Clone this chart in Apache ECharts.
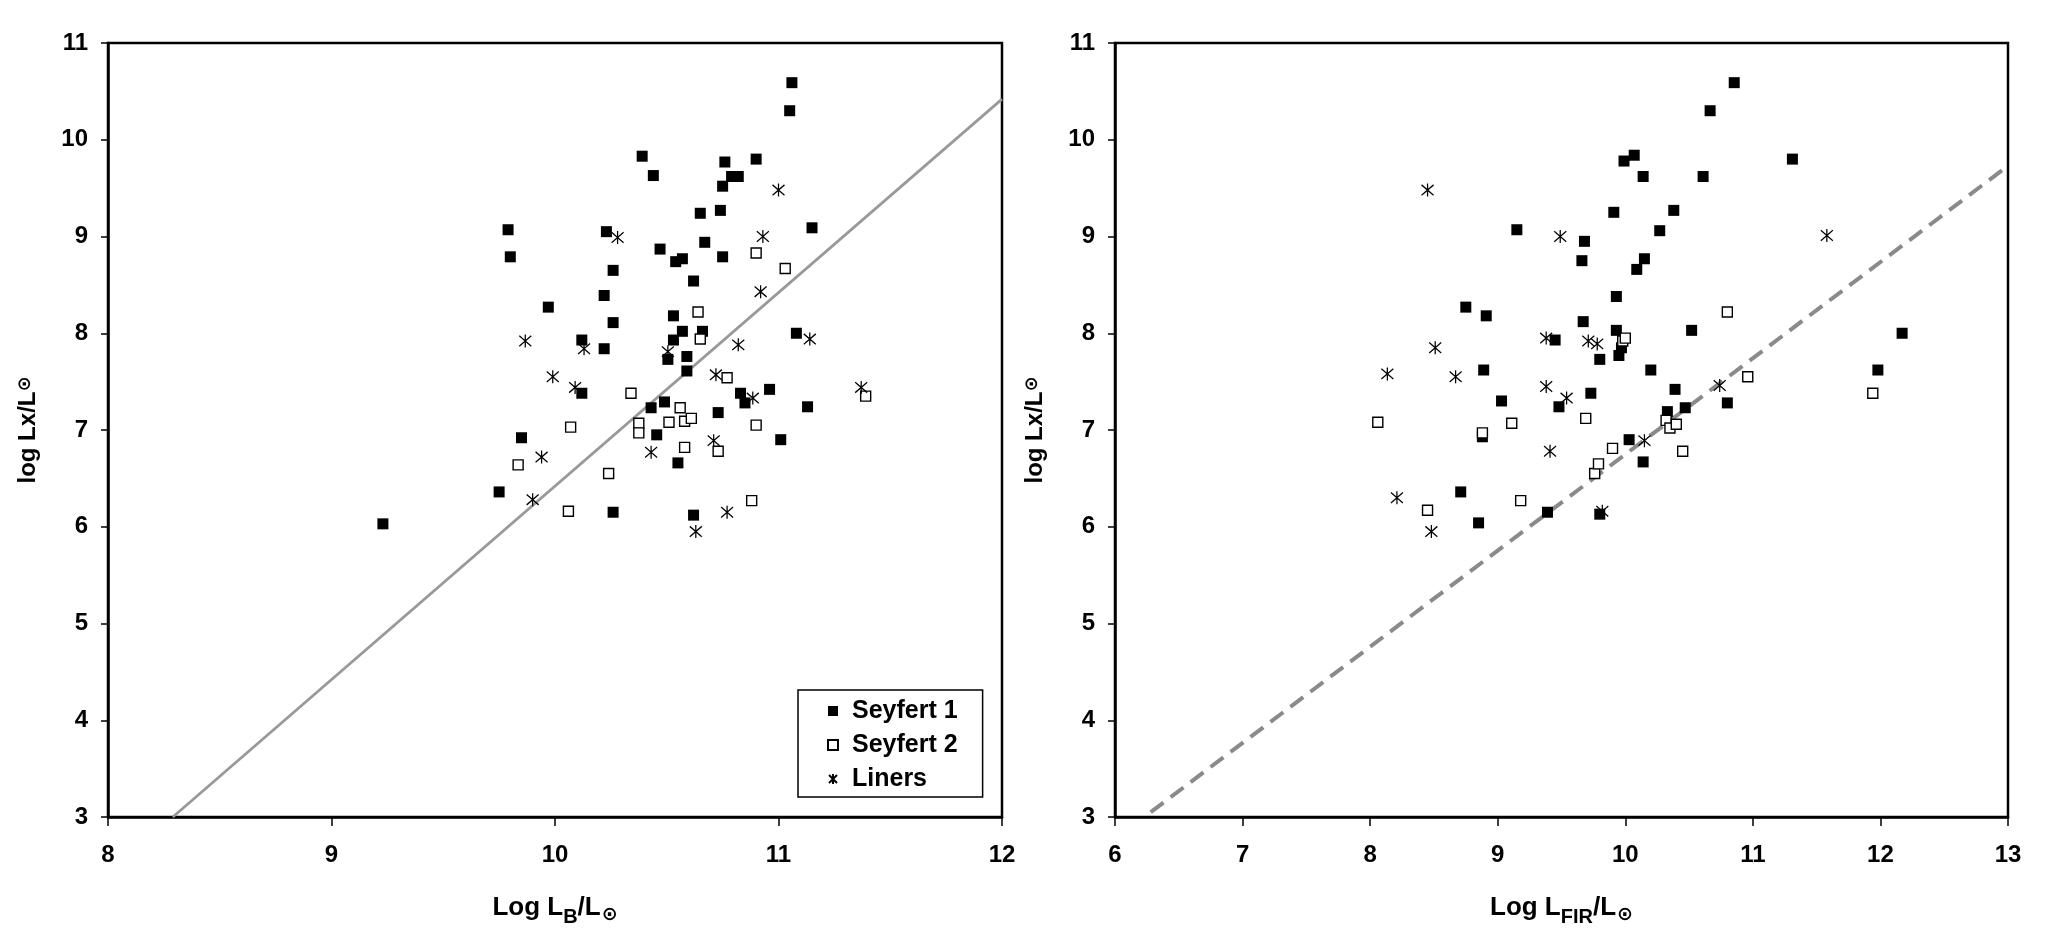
<!DOCTYPE html>
<html><head><meta charset="utf-8">
<script src="https://cdn.jsdelivr.net/npm/echarts@6/dist/echarts.min.js"></script>
<style>html,body{margin:0;padding:0;background:#fff}#c{width:2050px;height:952px}</style>
</head><body><div id="c"></div>
<script>
// ---- Left panel: log L_B vs log L_X ----
const sy1B = [[9.23,6.03],[9.75,6.36],[9.79,9.07],[9.80,8.79],[9.85,6.92],[9.97,8.27],[10.12,7.93],[10.12,7.38],[10.22,8.39],[10.22,7.84],[10.23,9.05],[10.26,8.65],[10.26,8.11],[10.26,6.15],[10.39,9.83],[10.44,9.63],[10.47,8.87],[10.43,7.23],[10.49,7.29],[10.455,6.95],[10.505,7.73],[10.53,8.18],[10.53,7.93],[10.54,8.74],[10.57,8.77],[10.57,8.02],[10.59,7.76],[10.59,7.61],[10.55,6.66],[10.62,8.54],[10.62,6.12],[10.65,9.24],[10.66,8.02],[10.67,8.94],[10.74,9.27],[10.75,9.52],[10.76,9.77],[10.75,8.79],[10.73,7.18],[10.79,9.62],[10.82,9.62],[10.83,7.38],[10.85,7.28],[10.90,9.80],[10.96,7.42],[11.01,6.90],[11.05,10.30],[11.06,10.59],[11.08,8.00],[11.13,7.24],[11.15,9.09]];
const sy2B = [[9.835,6.64],[10.06,6.16],[10.07,7.03],[10.24,6.55],[10.34,7.38],[10.375,7.07],[10.375,6.97],[10.51,7.08],[10.56,7.23],[10.58,6.82],[10.58,7.09],[10.61,7.12],[10.64,8.22],[10.65,7.94],[10.73,6.78],[10.77,7.54],[10.88,6.27],[10.90,8.83],[10.90,7.05],[11.03,8.67],[11.39,7.35]];
const linB = [[9.867,7.92],[9.90,6.28],[9.94,6.72],[9.99,7.55],[10.09,7.44],[10.13,7.84],[10.28,8.99],[10.43,6.77],[10.505,7.81],[10.63,5.95],[10.71,6.89],[10.72,7.57],[10.77,6.15],[10.82,7.88],[10.885,7.33],[10.92,8.43],[10.93,9.00],[11.00,9.48],[11.14,7.94],[11.37,7.44]];
const fitB = [[8.29,3.0],[12.0,10.42]];

// ---- Right panel: log L_FIR vs log L_X ----
const sy1F = [[10.854,10.59],[10.665,10.30],[10.07,9.84],[9.99,9.78],[10.14,9.62],[10.61,9.62],[11.31,9.80],[9.91,9.25],[10.38,9.27],[9.15,9.07],[10.27,9.06],[9.68,8.95],[9.66,8.75],[10.15,8.77],[10.09,8.66],[9.93,8.38],[8.75,8.27],[8.91,8.18],[9.67,8.12],[9.93,8.03],[10.52,8.03],[9.45,7.93],[9.97,7.85],[9.95,7.77],[9.80,7.73],[8.89,7.62],[10.20,7.62],[11.98,7.62],[12.17,8.00],[9.73,7.38],[10.39,7.42],[9.03,7.30],[9.48,7.24],[10.33,7.19],[10.47,7.23],[10.80,7.28],[8.88,6.93],[10.03,6.90],[10.14,6.67],[8.71,6.36],[8.85,6.04],[9.39,6.15],[9.80,6.13]];
const sy2F = [[8.06,7.08],[8.45,6.17],[8.88,6.97],[9.11,7.07],[9.18,6.27],[9.69,7.12],[9.76,6.55],[9.79,6.65],[9.90,6.81],[9.98,7.92],[10.00,7.95],[10.32,7.10],[10.35,7.02],[10.40,7.06],[10.45,6.78],[10.80,8.22],[10.96,7.55],[11.94,7.38]];
const linF = [[8.45,9.48],[9.49,9.00],[11.58,9.01],[8.135,7.58],[8.51,7.85],[8.67,7.55],[9.38,7.95],[9.71,7.92],[9.78,7.89],[9.38,7.45],[9.54,7.33],[9.41,6.78],[8.21,6.30],[8.48,5.95],[9.82,6.16],[10.15,6.89],[10.74,7.46]];
const fitF = [[6.28,3.05],[13.0,9.73]];

const FONT = 'Liberation Sans, Arial, sans-serif';
const STAR = 'path://M0,-10L0,10M-8,-8L8,8M-8,8L8,-8';

const chart = echarts.init(document.getElementById('c'), null, {renderer:'canvas'});

function xAx(gi, min, max, nameRich, nameText){
  return {
    type:'value', gridIndex:gi, min:min, max:max, interval:1,
    splitLine:{show:false},
    axisLine:{show:true, onZero:false, lineStyle:{color:'#000', width:2.5}},
    axisTick:{show:true, inside:false, length:9, lineStyle:{color:'#000', width:1.5}},
    axisLabel:{color:'#000', fontFamily:FONT, fontWeight:'bold', fontSize:24, margin:26},
    name:nameText, nameLocation:'middle', nameGap:78,
    nameTextStyle:{color:'#000', fontFamily:FONT, fontWeight:'bold', fontSize:25, rich:nameRich}
  };
}
function yAx(gi){
  return {
    type:'value', gridIndex:gi, min:3, max:11, interval:1,
    splitLine:{show:false},
    axisLine:{show:true, onZero:false, lineStyle:{color:'#000', width:2.5}},
    axisTick:{show:true, inside:false, length:7, lineStyle:{color:'#000', width:1.5}},
    axisLabel:{color:'#000', fontFamily:FONT, fontWeight:'bold', fontSize:24, margin:20},
    name:'{m|log Lx/L}{sup|⊙}', nameLocation:'middle', nameGap:64, nameRotate:90,
    nameTextStyle:{color:'#000', fontFamily:FONT, fontWeight:'bold', fontSize:24,
      rich:{
        m:{fontFamily:FONT, fontWeight:'bold', fontSize:24, lineHeight:28, verticalAlign:'top', color:'#000'},
        sup:{fontFamily:'DejaVu Sans', fontWeight:'bold', fontSize:18, lineHeight:20, verticalAlign:'top', color:'#000'}
      }}
  };
}
const subRich = {
  m:{fontFamily:FONT, fontWeight:'bold', fontSize:26, lineHeight:29, verticalAlign:'top', color:'#000'},
  sub:{fontFamily:FONT, fontWeight:'bold', fontSize:20, lineHeight:20, padding:[12,0,0,0], verticalAlign:'top', color:'#000'},
  sun:{fontFamily:'DejaVu Sans', fontWeight:'bold', fontSize:19, lineHeight:20, padding:[11,0,0,1], verticalAlign:'top', color:'#000'}
};

function sc(name, data, xi, kind){
  const s = {type:'scatter', name:name, xAxisIndex:xi, yAxisIndex:xi, data:data, z:3};
  if(kind===1){ s.symbol='rect'; s.symbolSize=11; s.itemStyle={color:'#000', opacity:1}; }
  if(kind===2){ s.symbol='rect'; s.symbolSize=10; s.itemStyle={color:'#fff', borderColor:'#000', borderWidth:1.4, opacity:1}; }
  if(kind===3){ s.symbol=STAR; s.symbolSize=[12,13]; s.itemStyle={color:'#000', borderColor:'#000', borderWidth:1.3, opacity:1}; }
  return s;
}

chart.setOption({
  backgroundColor:'#fff',
  animation:false,
  grid:[
    {left:108, top:43, width:894, height:774, show:true, borderColor:'#000', borderWidth:2.5, backgroundColor:'#fff'},
    {left:1115, top:43, width:893, height:774, show:true, borderColor:'#000', borderWidth:2.5, backgroundColor:'#fff'}
  ],
  xAxis:[ xAx(0, 8, 12, subRich, '{m|Log L}{sub|B}{m|/L}{sun|⊙}'),
          xAx(1, 6, 13, subRich, '{m|Log L}{sub|FIR}{m|/L}{sun|⊙}') ],
  yAxis:[ yAx(0), yAx(1) ],
  legend:{
    show:true, orient:'vertical', left:798, top:690,
    data:['Seyfert 1','Seyfert 2','Liners'],
    backgroundColor:'#fff', borderColor:'#000', borderWidth:1.5,
    padding:[7,25,4,29], itemGap:6, itemWidth:10, itemHeight:10,
    selectedMode:false,
    textStyle:{color:'#000', fontFamily:FONT, fontWeight:'bold', fontSize:25, lineHeight:28, padding:[0,0,0,9]}
  },
  series:[
    {type:'line', name:'fitB', xAxisIndex:0, yAxisIndex:0, data:fitB, symbol:'none', z:1, silent:true,
      lineStyle:{color:'#999', width:2.8, type:'solid'}},
    {type:'line', name:'fitF', xAxisIndex:1, yAxisIndex:1, data:fitF, symbol:'none', z:1, silent:true,
      lineStyle:{color:'#8a8a8a', width:4, type:[16,9]}},
    sc('Seyfert 1', sy1B, 0, 1),
    sc('Seyfert 2', sy2B, 0, 2),
    sc('Liners', linB, 0, 3),
    sc('Seyfert 1', sy1F, 1, 1),
    sc('Seyfert 2', sy2F, 1, 2),
    sc('Liners', linF, 1, 3)
  ]
});
</script></body></html>
